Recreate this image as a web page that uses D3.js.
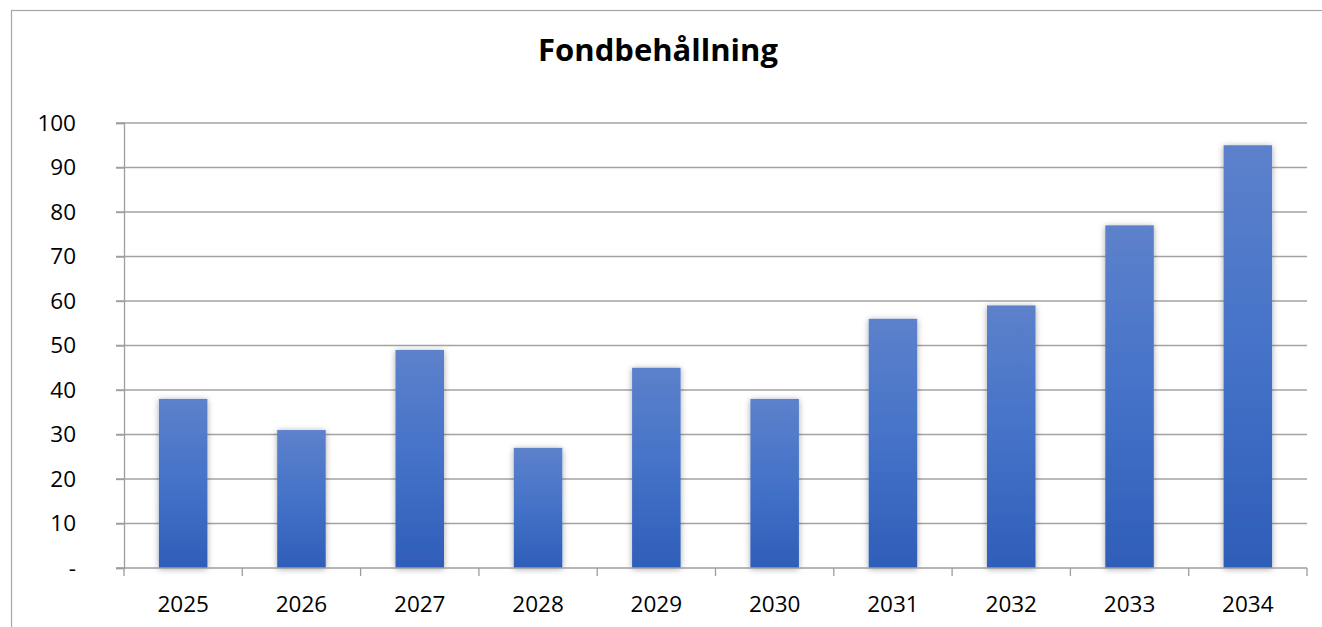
<!DOCTYPE html>
<meta charset="utf-8">
<script src="https://d3js.org/d3.v7.min.js"></script>
<style>
  body { margin: 0; background: #fff; }
  svg { display: block; font-family: "Open Sans", "Noto Sans", sans-serif; }
</style>
<div id="chart"></div>
<script>
  // data
  var years = ["2025", "2026", "2027", "2028", "2029", "2030", "2031", "2032", "2033", "2034"];
  var values = [38, 31, 49, 27, 45, 38, 56, 59, 77, 95];
  var yTicks = [0, 10, 20, 30, 40, 50, 60, 70, 80, 90, 100];

  var W = 1322, H = 627;
  var margin = { top: 123, right: 15, bottom: 59, left: 124 },
    width = 1307 - margin.left,
    height = 568 - margin.top;

  var svg = d3.select("#chart").append("svg")
    .attr("width", W)
    .attr("height", H);

  // outer chart border (runs off the right and bottom of the picture)
  svg.append("rect")
    .attr("x", 11.5).attr("y", 10.5)
    .attr("width", 1330).attr("height", 640)
    .attr("fill", "#fff")
    .attr("stroke", "#a6a6a6")
    .attr("stroke-width", 1.2);

  var defs = svg.append("defs");
  var grad = defs.append("linearGradient")
    .attr("id", "barGrad")
    .attr("x1", 0).attr("y1", 0).attr("x2", 0).attr("y2", 1);
  grad.append("stop").attr("offset", "0%").attr("stop-color", "#5d81cb");
  grad.append("stop").attr("offset", "50%").attr("stop-color", "#4472c8");
  grad.append("stop").attr("offset", "100%").attr("stop-color", "#2e5eb8");

  var shadow = defs.append("filter").attr("id", "shadow")
    .attr("x", "-30%").attr("y", "-10%").attr("width", "160%").attr("height", "120%");
  shadow.append("feDropShadow")
    .attr("dx", 0).attr("dy", 1).attr("stdDeviation", 3)
    .attr("flood-color", "#000").attr("flood-opacity", 0.35);

  svg.append("text")
    .attr("x", 658).attr("y", 61)
    .attr("text-anchor", "middle")
    .attr("font-size", 31)
    .attr("font-weight", "bold")
    .attr("fill", "#000")
    .text("Fondbehållning");

  var g = svg.append("g")
    .attr("transform", "translate(" + margin.left + "," + margin.top + ")");

  var x = d3.scaleBand()
    .domain(years)
    .range([0, width])
    .paddingInner(0.59)
    .paddingOuter(0.295);

  var y = d3.scaleLinear()
    .domain([0, 100])
    .range([height, 0]);

  // gridlines
  g.append("g")
    .selectAll("line")
    .data(yTicks.slice(1))
    .enter().append("line")
    .attr("x1", -8).attr("x2", width)
    .attr("y1", function(d) { return y(d); })
    .attr("y2", function(d) { return y(d); })
    .attr("stroke", "#a3a3a3")
    .attr("stroke-width", 1.3);

  // y axis
  var yAxis = g.append("g")
    .call(d3.axisLeft(y)
      .tickValues(yTicks)
      .tickSize(8)
      .tickPadding(40)
      .tickFormat(function(d) { return d === 0 ? "-" : d; }));
  yAxis.selectAll("line").attr("stroke", "#9d9d9d").attr("stroke-width", 1.3);
  yAxis.select(".domain").attr("stroke", "#9d9d9d").attr("stroke-width", 1.3);
  yAxis.selectAll("text")
    .attr("font-size", 22.5)
    .attr("font-family", "'Open Sans', sans-serif")
    .attr("fill", "#000");

  // bars
  g.append("g")
    .selectAll("rect")
    .data(values)
    .enter().append("rect")
    .attr("x", function(d, i) { return x(years[i]); })
    .attr("y", function(d) { return y(d); })
    .attr("width", x.bandwidth())
    .attr("height", function(d) { return y(0) - y(d); })
    .attr("fill", "url(#barGrad)")
    .attr("filter", "url(#shadow)");

  // x axis (ticks between categories)
  var xAxisG = g.append("g")
    .attr("transform", "translate(0," + height + ")");
  xAxisG.append("line")
    .attr("x1", -8).attr("x2", width)
    .attr("stroke", "#9d9d9d").attr("stroke-width", 1.3);
  var step = x.step();
  xAxisG.selectAll(".sep")
    .data(d3.range(years.length + 1))
    .enter().append("line")
    .attr("class", "sep")
    .attr("x1", function(i) { return i * step; })
    .attr("x2", function(i) { return i * step; })
    .attr("y1", 0).attr("y2", 8)
    .attr("stroke", "#9d9d9d").attr("stroke-width", 1.3);
  xAxisG.selectAll(".lbl")
    .data(years)
    .enter().append("text")
    .attr("class", "lbl")
    .attr("x", function(d) { return x(d) + x.bandwidth() / 2; })
    .attr("y", 44)
    .attr("text-anchor", "middle")
    .attr("font-size", 22.5)
    .attr("fill", "#000")
    .text(function(d) { return d; });
</script>
